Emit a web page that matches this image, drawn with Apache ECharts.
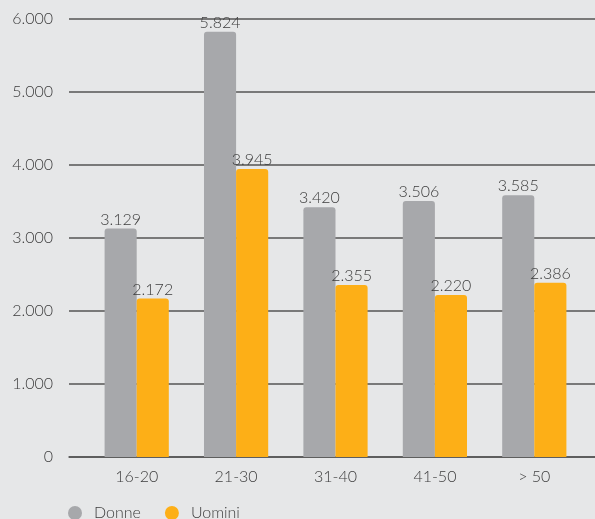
<!DOCTYPE html>
<html><head><meta charset="utf-8">
<script src="https://cdn.jsdelivr.net/npm/echarts@6/dist/echarts.min.js"></script>
<style>html,body{margin:0;padding:0;background:#e6e7e8;}#c{width:595px;height:519px;}</style>
</head><body><div id="c"></div>
<script>
const categories = ['16-20', '21-30', '31-40', '41-50', '> 50'];
const donne = [3129, 5824, 3420, 3506, 3585];
const uomini = [2172, 3945, 2355, 2220, 2386];
const seriesNames = ['Donne', 'Uomini'];

function fmt(v){ return String(v).replace(/\B(?=(\d{3})+(?!\d))/g, '.'); }
const FONT = 'Lato';
const TXT = '#3d3d3d';
const chart = echarts.init(document.getElementById('c'));
chart.setOption({
  backgroundColor: '#e6e7e8',
  animation: false,
  textStyle: { fontFamily: FONT },
  legend: {
    left: 68, top: 505, padding: 0, itemWidth: 14, itemHeight: 14, itemGap: 24,
    icon: 'circle',
    textStyle: { fontFamily: FONT, fontSize: 16, color: TXT, fontWeight: 300, padding: [0, 0, 0, 7] },
    data: seriesNames
  },
  grid: [
    { left: 69, right: 0, top: 19, bottom: 62 },
    { left: 87, right: 11, top: 19, bottom: 62 }
  ],
  xAxis: [
    { type: 'category', gridIndex: 0, data: [''], axisLine: { lineStyle: { color: '#555', width: 1.5 } },
      axisTick: { show: false }, axisLabel: { show: false } },
    { type: 'category', gridIndex: 1, data: categories,
      axisLine: { show: false }, axisTick: { show: false },
      axisLabel: { fontFamily: FONT, fontSize: 16, color: TXT, margin: 12, fontWeight: 300 } }
  ],
  yAxis: [
    { type: 'value', gridIndex: 0, min: 0, max: 6000, interval: 1000,
      axisLine: { show: false }, axisTick: { show: false },
      splitLine: { lineStyle: { color: '#555', width: 1.5 } },
      axisLabel: { formatter: fmt, fontFamily: FONT, fontSize: 16, color: TXT, margin: 16, fontWeight: 300 } },
    { type: 'value', gridIndex: 1, min: 0, max: 6000, interval: 1000, show: false, splitLine: { show: false } }
  ],
  series: [
    { name: 'Donne', type: 'bar', xAxisIndex: 1, yAxisIndex: 1, data: donne,
      barWidth: '32.3%', barGap: '0%',
      itemStyle: { color: '#a7a8ab', borderRadius: [3, 3, 0, 0] },
      label: { show: true, position: 'top', distance: 1, formatter: p => fmt(p.value),
        fontFamily: FONT, fontSize: 16, color: TXT, fontWeight: 300 } },
    { name: 'Uomini', type: 'bar', xAxisIndex: 1, yAxisIndex: 1, data: uomini,
      barWidth: '32.3%', barGap: '0%',
      itemStyle: { color: '#fdaf17', borderRadius: [3, 3, 0, 0] },
      label: { show: true, position: 'top', distance: 1, formatter: p => fmt(p.value),
        fontFamily: FONT, fontSize: 16, color: TXT, fontWeight: 300 } }
  ]
});
</script></body></html>
